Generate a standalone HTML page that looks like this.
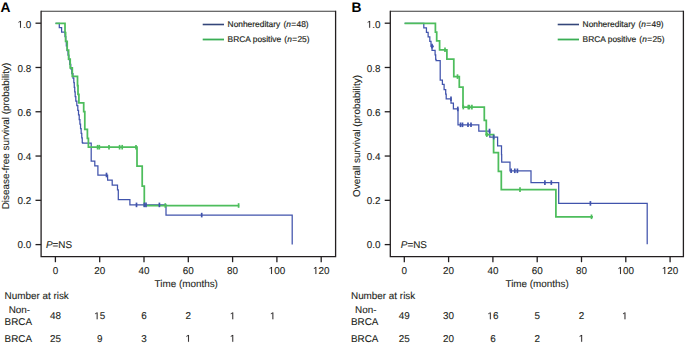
<!DOCTYPE html>
<html><head><meta charset="utf-8"><style>
html,body{margin:0;padding:0;background:#fff;}
body{width:685px;height:344px;overflow:hidden;}
svg{display:block;}
text{text-rendering:geometricPrecision;}
.h1{fill-opacity:0;stroke-opacity:0;}
.one{fill:#231f20;stroke:#231f20;stroke-width:20;}
.t{font-family:"Liberation Sans",sans-serif;font-size:9.9px;fill:#231f20;stroke:#231f20;stroke-width:0.1px;}
.lg{font-family:"Liberation Sans",sans-serif;font-size:8.4px;fill:#231f20;stroke:#231f20;stroke-width:0.18px;}
.L{font-family:"Liberation Sans",sans-serif;font-size:13.8px;font-weight:bold;fill:#000;}
</style></head><body>
<svg width="685" height="344" viewBox="0 0 685 344">
<path d="M41.1,11.2H335.6" stroke="#3a3a3a" stroke-width="1.1"/><path d="M335.6,10.7V257.3M41.1,10.7V257.3M40.5,256.7H336.20000000000005" stroke="#231f20" stroke-width="1.3" fill="none"/><path d="M35.50,244.60H41.10" stroke="#231f20" stroke-width="1.3"/><text x="31.30" y="247.50" text-anchor="end" class="t">0.0</text><path d="M35.50,200.32H41.10" stroke="#231f20" stroke-width="1.3"/><text x="31.30" y="203.54" text-anchor="end" class="t">0.2</text><path d="M35.50,156.04H41.10" stroke="#231f20" stroke-width="1.3"/><text x="31.30" y="159.58" text-anchor="end" class="t">0.4</text><path d="M35.50,111.76H41.10" stroke="#231f20" stroke-width="1.3"/><text x="31.30" y="115.62" text-anchor="end" class="t">0.6</text><path d="M35.50,67.48H41.10" stroke="#231f20" stroke-width="1.3"/><text x="31.30" y="71.66" text-anchor="end" class="t">0.8</text><path d="M35.50,23.20H41.10" stroke="#231f20" stroke-width="1.3"/><text x="31.30" y="27.70" text-anchor="end" class="t"><tspan class="h1">1</tspan>.0</text><path d="M55.40,256.7V262.2" stroke="#231f20" stroke-width="1.3"/><text x="55.40" y="273.9" text-anchor="middle" class="t">0</text><path d="M99.70,256.7V262.2" stroke="#231f20" stroke-width="1.3"/><text x="99.70" y="273.9" text-anchor="middle" class="t">20</text><path d="M144.00,256.7V262.2" stroke="#231f20" stroke-width="1.3"/><text x="144.00" y="273.9" text-anchor="middle" class="t">40</text><path d="M188.30,256.7V262.2" stroke="#231f20" stroke-width="1.3"/><text x="188.30" y="273.9" text-anchor="middle" class="t">60</text><path d="M232.60,256.7V262.2" stroke="#231f20" stroke-width="1.3"/><text x="232.60" y="273.9" text-anchor="middle" class="t">80</text><path d="M276.90,256.7V262.2" stroke="#231f20" stroke-width="1.3"/><text x="276.90" y="273.9" text-anchor="middle" class="t"><tspan class="h1">1</tspan>00</text><path d="M321.20,256.7V262.2" stroke="#231f20" stroke-width="1.3"/><text x="321.20" y="273.9" text-anchor="middle" class="t"><tspan class="h1">1</tspan>20</text><text x="154.6" y="286.6" class="t">Time (months)</text><text transform="translate(8.8,136) rotate(-90)" text-anchor="middle" class="t">Disease-free survival (probability)</text><text x="45.9" y="247.5" class="t"><tspan font-style="italic">P</tspan>=NS</text><text x="0.6" y="11.9" class="L">A</text><path d="M390.3,11.2H683.4" stroke="#3a3a3a" stroke-width="1.1"/><path d="M683.4,10.7V257.3M390.3,10.7V257.3M389.7,256.7H684.0" stroke="#231f20" stroke-width="1.3" fill="none"/><path d="M384.70,244.60H390.30" stroke="#231f20" stroke-width="1.3"/><text x="380.50" y="247.50" text-anchor="end" class="t">0.0</text><path d="M384.70,200.32H390.30" stroke="#231f20" stroke-width="1.3"/><text x="380.50" y="203.54" text-anchor="end" class="t">0.2</text><path d="M384.70,156.04H390.30" stroke="#231f20" stroke-width="1.3"/><text x="380.50" y="159.58" text-anchor="end" class="t">0.4</text><path d="M384.70,111.76H390.30" stroke="#231f20" stroke-width="1.3"/><text x="380.50" y="115.62" text-anchor="end" class="t">0.6</text><path d="M384.70,67.48H390.30" stroke="#231f20" stroke-width="1.3"/><text x="380.50" y="71.66" text-anchor="end" class="t">0.8</text><path d="M384.70,23.20H390.30" stroke="#231f20" stroke-width="1.3"/><text x="380.50" y="27.70" text-anchor="end" class="t"><tspan class="h1">1</tspan>.0</text><path d="M404.30,256.7V262.2" stroke="#231f20" stroke-width="1.3"/><text x="404.30" y="273.9" text-anchor="middle" class="t">0</text><path d="M448.60,256.7V262.2" stroke="#231f20" stroke-width="1.3"/><text x="448.60" y="273.9" text-anchor="middle" class="t">20</text><path d="M492.90,256.7V262.2" stroke="#231f20" stroke-width="1.3"/><text x="492.90" y="273.9" text-anchor="middle" class="t">40</text><path d="M537.20,256.7V262.2" stroke="#231f20" stroke-width="1.3"/><text x="537.20" y="273.9" text-anchor="middle" class="t">60</text><path d="M581.50,256.7V262.2" stroke="#231f20" stroke-width="1.3"/><text x="581.50" y="273.9" text-anchor="middle" class="t">80</text><path d="M625.80,256.7V262.2" stroke="#231f20" stroke-width="1.3"/><text x="625.80" y="273.9" text-anchor="middle" class="t"><tspan class="h1">1</tspan>00</text><path d="M670.10,256.7V262.2" stroke="#231f20" stroke-width="1.3"/><text x="670.10" y="273.9" text-anchor="middle" class="t"><tspan class="h1">1</tspan>20</text><text x="505.5" y="286.6" class="t">Time (months)</text><text transform="translate(359.6,136) rotate(-90)" text-anchor="middle" class="t">Overall survival (probability)</text><text x="400.8" y="247.5" class="t"><tspan font-style="italic">P</tspan>=NS</text><text x="351.6" y="11.9" class="L">B</text><path d="M202.70,24.5H224.00" stroke="#34467a" stroke-width="1.6"/><path d="M202.70,39.5H224.00" stroke="#3aae55" stroke-width="1.8"/><text x="227.60" y="27.4" class="lg">Nonhereditary <tspan dx="0.9">(</tspan><tspan font-style="italic">n</tspan><tspan dx="0.4">=</tspan><tspan dx="0.3">48)</tspan></text><text x="227.60" y="42.4" class="lg">BRCA positive <tspan dx="0.9">(</tspan><tspan font-style="italic">n</tspan><tspan dx="0.4">=</tspan><tspan dx="0.3">25)</tspan></text><path d="M557.70,24.5H579.00" stroke="#34467a" stroke-width="1.6"/><path d="M557.70,39.5H579.00" stroke="#3aae55" stroke-width="1.8"/><text x="582.60" y="27.4" class="lg">Nonhereditary <tspan dx="0.9">(</tspan><tspan font-style="italic">n</tspan><tspan dx="0.4">=</tspan><tspan dx="0.3">49)</tspan></text><text x="582.60" y="42.4" class="lg">BRCA positive <tspan dx="0.9">(</tspan><tspan font-style="italic">n</tspan><tspan dx="0.4">=</tspan><tspan dx="0.3">25)</tspan></text><text x="4.60" y="299.1" class="t">Number at risk</text><text x="19.40" y="313.4" text-anchor="middle" class="t">Non-</text><text x="4.60" y="325.3" class="t">BRCA</text><text x="4.60" y="341.8" class="t">BRCA</text><text x="55.40" y="319.2" text-anchor="middle" class="t">48</text><text x="99.70" y="319.2" text-anchor="middle" class="t"><tspan class="h1">1</tspan>5</text><text x="144.00" y="319.2" text-anchor="middle" class="t">6</text><text x="188.30" y="319.2" text-anchor="middle" class="t">2</text><text x="232.60" y="319.2" text-anchor="middle" class="t"><tspan class="h1">1</tspan></text><text x="272.70" y="319.2" text-anchor="middle" class="t"><tspan class="h1">1</tspan></text><text x="55.40" y="341.8" text-anchor="middle" class="t">25</text><text x="99.70" y="341.8" text-anchor="middle" class="t">9</text><text x="144.00" y="341.8" text-anchor="middle" class="t">3</text><text x="188.30" y="341.8" text-anchor="middle" class="t"><tspan class="h1">1</tspan></text><text x="232.60" y="341.8" text-anchor="middle" class="t"><tspan class="h1">1</tspan></text><text x="351.00" y="299.1" class="t">Number at risk</text><text x="365.80" y="313.4" text-anchor="middle" class="t">Non-</text><text x="351.00" y="325.3" class="t">BRCA</text><text x="351.00" y="341.8" class="t">BRCA</text><text x="404.30" y="319.2" text-anchor="middle" class="t">49</text><text x="448.60" y="319.2" text-anchor="middle" class="t">30</text><text x="492.90" y="319.2" text-anchor="middle" class="t"><tspan class="h1">1</tspan>6</text><text x="537.20" y="319.2" text-anchor="middle" class="t">5</text><text x="581.50" y="319.2" text-anchor="middle" class="t">2</text><text x="624.80" y="319.2" text-anchor="middle" class="t"><tspan class="h1">1</tspan></text><text x="404.30" y="341.8" text-anchor="middle" class="t">25</text><text x="448.60" y="341.8" text-anchor="middle" class="t">20</text><text x="492.90" y="341.8" text-anchor="middle" class="t">6</text><text x="537.20" y="341.8" text-anchor="middle" class="t">2</text><text x="581.50" y="341.8" text-anchor="middle" class="t"><tspan class="h1">1</tspan></text><path d="M55.5,23.3 H59.3 V27.6 H61.6 V32.1 H65.0 V36.70 H65.76 V41.30 H66.32 V45.90 H67.14 V50.50 H68.02 V55.10 H68.88 V59.70 H69.74 V64.30 H70.77 V68.90 H71.82 V73.50 H72.97 V78.10 H73.81 V82.70 H74.27 V87.30 H74.73 V91.90 H75.19 V96.50 H75.80 V101.10 H76.83 V105.70 H77.81 V110.30 H78.52 V114.90 H79.22 V119.50 H79.92 V124.10 H80.55 V128.70 H81.16 V133.30 H81.77 V137.90 H82.26 V142.50 H82.67 V143.1 H91.2 V161.1 H94.8 V165.8 H97.9 V175 H107.6 V180.1 H112.2 V185 H117.5 V189.8 H118.3 V199.6 H129.9 V204.9 H166.0 V215.1 H292.2 V244.6" fill="none" stroke="#4053ac" stroke-width="1.25" stroke-linejoin="miter"/><path d="M55.5,23.3 H65.0 V32.5 H65.6 V41.3 H67.2 V50.2 H68.6 V59.0 H70.2 V67.9 H72.3 V76.4 H77.5 V85.5 H78.0 V94.4 H78.9 V102.9 H83.7 V111.7 H84.8 V129.3 H87.4 V138.4 H88.4 V147.2 H137.0 V166.1 H142.2 V186.0 H144.3 V205.5 H239.2" fill="none" stroke="#4dbd5c" stroke-width="1.75" stroke-linejoin="miter"/><path d="M404.6,23.3 H423.8 V27.82 H426.44 V32.34 H428.13 V36.86 H429.81 V41.38 H431.00 V45.90 H432.03 V50.42 H435.10 V54.94 H435.69 V59.46 H436.10 V60.5 H440.2 V80.0 H442.4 V84.3 H444.1 V89.5 H445.7 V94.2 H446.2 V98.8 H451.0 V103.0 H453.4 V108.9 H458.0 V124.8 H478.8 V131.0 H489.8 V137.1 H497.6 V145.8 H501.5 V154.5 H501.7 V162.2 H510.0 V170.8 H531.0 V182.6 H558.7 V203.4 H647.2 V244.3" fill="none" stroke="#4053ac" stroke-width="1.25" stroke-linejoin="miter"/><path d="M404.6,23.3 H435.4 V32.0 H436.7 V40.8 H439.6 V49.8 H446.9 V59.0 H453.8 V76.6 H459.3 V87.2 H463.0 V107.1 H484.3 V120.4 H486.3 V134.6 H493.6 V152.7 H498.4 V171.3 H501.3 V189.6 H555.9 V216.8 H593.0" fill="none" stroke="#4dbd5c" stroke-width="1.75" stroke-linejoin="miter"/><path d="M97.60,144.90V149.50" stroke="#4dbd5c" stroke-width="1.7"/><path d="M99.30,144.90V149.50" stroke="#4dbd5c" stroke-width="1.7"/><path d="M109.00,144.90V149.50" stroke="#4dbd5c" stroke-width="1.7"/><path d="M119.60,144.90V149.50" stroke="#4dbd5c" stroke-width="1.7"/><path d="M122.20,144.90V149.50" stroke="#4dbd5c" stroke-width="1.7"/><path d="M136.00,144.90V149.50" stroke="#4dbd5c" stroke-width="1.7"/><path d="M165.30,203.20V207.80" stroke="#4dbd5c" stroke-width="1.7"/><path d="M238.60,203.20V207.80" stroke="#4dbd5c" stroke-width="1.7"/><path d="M106.50,172.70V177.30" stroke="#4053ac" stroke-width="1.7"/><path d="M136.50,202.60V207.20" stroke="#4053ac" stroke-width="1.7"/><path d="M144.30,202.60V207.20" stroke="#4053ac" stroke-width="1.7"/><path d="M146.00,202.60V207.20" stroke="#4053ac" stroke-width="1.7"/><path d="M159.40,202.60V207.20" stroke="#4053ac" stroke-width="1.7"/><path d="M201.70,212.80V217.40" stroke="#4053ac" stroke-width="1.7"/><path d="M432.00,43.80V48.40" stroke="#4053ac" stroke-width="1.7"/><path d="M451.00,96.50V101.10" stroke="#4053ac" stroke-width="1.7"/><path d="M457.80,106.60V111.20" stroke="#4053ac" stroke-width="1.7"/><path d="M460.50,122.50V127.10" stroke="#4053ac" stroke-width="1.7"/><path d="M462.50,122.50V127.10" stroke="#4053ac" stroke-width="1.7"/><path d="M468.00,122.50V127.10" stroke="#4053ac" stroke-width="1.7"/><path d="M471.00,122.50V127.10" stroke="#4053ac" stroke-width="1.7"/><path d="M489.50,128.70V133.30" stroke="#4053ac" stroke-width="1.7"/><path d="M493.70,134.80V139.40" stroke="#4053ac" stroke-width="1.7"/><path d="M511.10,168.50V173.10" stroke="#4053ac" stroke-width="1.7"/><path d="M514.80,168.50V173.10" stroke="#4053ac" stroke-width="1.7"/><path d="M517.40,168.50V173.10" stroke="#4053ac" stroke-width="1.7"/><path d="M544.90,180.30V184.90" stroke="#4053ac" stroke-width="1.7"/><path d="M551.30,180.30V184.90" stroke="#4053ac" stroke-width="1.7"/><path d="M590.40,201.10V205.70" stroke="#4053ac" stroke-width="1.7"/><path d="M445.00,47.50V52.10" stroke="#4dbd5c" stroke-width="1.7"/><path d="M457.50,74.30V78.90" stroke="#4dbd5c" stroke-width="1.7"/><path d="M463.30,104.80V109.40" stroke="#4dbd5c" stroke-width="1.7"/><path d="M468.30,104.80V109.40" stroke="#4dbd5c" stroke-width="1.7"/><path d="M469.40,104.80V109.40" stroke="#4dbd5c" stroke-width="1.7"/><path d="M471.90,104.80V109.40" stroke="#4dbd5c" stroke-width="1.7"/><path d="M486.80,132.30V136.90" stroke="#4dbd5c" stroke-width="1.7"/><path d="M520.00,187.30V191.90" stroke="#4dbd5c" stroke-width="1.7"/><path d="M591.50,214.50V219.10" stroke="#4dbd5c" stroke-width="1.7"/><circle cx="432.2" cy="46.3" r="1.6" fill="#4053ac"/><circle cx="486.9" cy="134.6" r="1.5" fill="#4dbd5c"/>
<path d="M515,0L515,1237L197,1010L197,1180L530,1409L696,1409L696,0Z" transform="translate(17.55,27.70) scale(0.004834,-0.004834)" class="one"/><path d="M515,0L515,1237L197,1010L197,1180L530,1409L696,1409L696,0Z" transform="translate(268.66,273.90) scale(0.004834,-0.004834)" class="one"/><path d="M515,0L515,1237L197,1010L197,1180L530,1409L696,1409L696,0Z" transform="translate(312.96,273.90) scale(0.004834,-0.004834)" class="one"/><path d="M515,0L515,1237L197,1010L197,1180L530,1409L696,1409L696,0Z" transform="translate(366.75,27.70) scale(0.004834,-0.004834)" class="one"/><path d="M515,0L515,1237L197,1010L197,1180L530,1409L696,1409L696,0Z" transform="translate(617.56,273.90) scale(0.004834,-0.004834)" class="one"/><path d="M515,0L515,1237L197,1010L197,1180L530,1409L696,1409L696,0Z" transform="translate(661.86,273.90) scale(0.004834,-0.004834)" class="one"/><path d="M515,0L515,1237L197,1010L197,1180L530,1409L696,1409L696,0Z" transform="translate(94.20,319.20) scale(0.004834,-0.004834)" class="one"/><path d="M515,0L515,1237L197,1010L197,1180L530,1409L696,1409L696,0Z" transform="translate(229.85,319.20) scale(0.004834,-0.004834)" class="one"/><path d="M515,0L515,1237L197,1010L197,1180L530,1409L696,1409L696,0Z" transform="translate(269.95,319.20) scale(0.004834,-0.004834)" class="one"/><path d="M515,0L515,1237L197,1010L197,1180L530,1409L696,1409L696,0Z" transform="translate(185.55,341.80) scale(0.004834,-0.004834)" class="one"/><path d="M515,0L515,1237L197,1010L197,1180L530,1409L696,1409L696,0Z" transform="translate(229.85,341.80) scale(0.004834,-0.004834)" class="one"/><path d="M515,0L515,1237L197,1010L197,1180L530,1409L696,1409L696,0Z" transform="translate(487.40,319.20) scale(0.004834,-0.004834)" class="one"/><path d="M515,0L515,1237L197,1010L197,1180L530,1409L696,1409L696,0Z" transform="translate(622.05,319.20) scale(0.004834,-0.004834)" class="one"/><path d="M515,0L515,1237L197,1010L197,1180L530,1409L696,1409L696,0Z" transform="translate(578.75,341.80) scale(0.004834,-0.004834)" class="one"/>
</svg>
</body></html>
